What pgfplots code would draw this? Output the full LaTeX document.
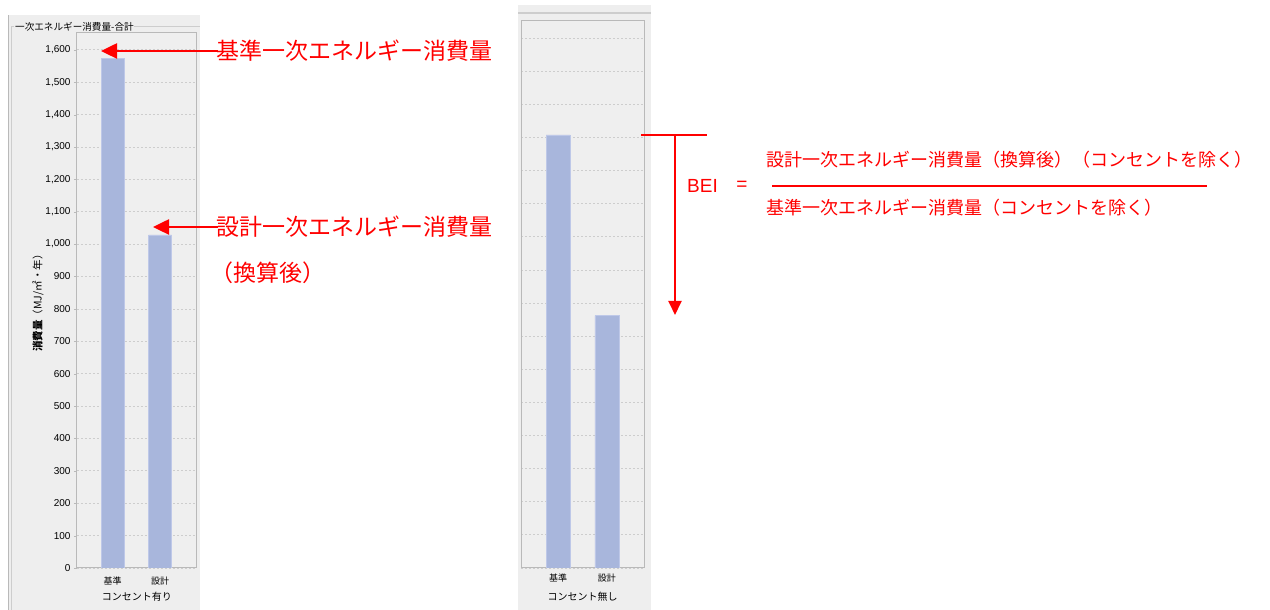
\documentclass[border=0pt]{standalone}
\usepackage{pgfplots}
\pgfplotsset{compat=1.18}
\usepackage{fontspec}
\setmainfont{Liberation Sans}
\newfontfamily\jp{Noto Sans CJK JP}
\usetikzlibrary{arrows.meta}
\definecolor{panelbg}{RGB}{238,238,238}
\definecolor{plotbg}{RGB}{239,239,239}
\definecolor{barcol}{RGB}{168,182,220}
\definecolor{barline}{RGB}{190,200,232}
\definecolor{framecol}{RGB}{185,185,185}
\definecolor{gridcol}{RGB}{205,205,205}
\definecolor{annred}{RGB}{255,0,0}

\pgfplotsset{
  chartstyle/.style={
    scale only axis, anchor=south west,
    ymin=0, ymax=1652,
    axis background/.style={fill=plotbg},
    axis line style={draw=framecol, line width=1pt},
    ymajorgrids, grid style={draw=gridcol, dash pattern=on 2pt off 2pt, line width=0.8pt},
    ytick={0,100,...,1600},
    xtick={0,1},
    xticklabels={基準,設計},
    xtick style={draw=none},
    tick pos=left,
    xticklabel style={font=\jp\fontsize{9}{10}\selectfont, yshift=-2pt},
    xlabel style={font=\jp\fontsize{10}{12}\selectfont, at={(axis description cs:0.5,0)}, anchor=center, yshift=-29pt},
  }
}

\begin{document}
\begin{tikzpicture}[x=1pt,y=1pt]
\useasboundingbox (0pt,0pt) rectangle (1270pt,610pt);
% left panel
\fill[panelbg] (8,0) rectangle (200,595);
\draw[draw=framecol, line width=1pt] (8.5,0) -- (8.5,595);
\draw[draw=gridcol, line width=1pt] (11.5,0) -- (11.5,583) -- (14,583);
\draw[draw=gridcol, line width=1pt] (134,583) -- (200,583);
\node[anchor=west, inner sep=0pt, font=\jp\fontsize{9.6}{11}\selectfont] at (15,583) {一次エネルギー消費量-合計};
% right panel
\fill[panelbg] (518,0) rectangle (651,605);
\draw[draw=gridcol, line width=1.2pt] (518,597) -- (651,597);

\begin{axis}[chartstyle,
  width=120pt, height=535pt, at={(77pt,42pt)},
  xmin=-0.75, xmax=1.78,
  major tick length=3pt, tick align=outside,
  ytick style={draw=framecol},
  /pgf/number format/assume math mode=true,
  /pgf/number format/.cd, 1000 sep={,}, /pgfplots/.cd,
  yticklabel style={font=\fontsize{10}{12}\selectfont},
  xlabel={コンセント有り},
  ylabel={\textbf{消費量}（MJ/㎡・年）},
  ylabel style={font=\jp\fontsize{10.5}{12}\selectfont, at={(axis description cs:-0.325,0.5)}, anchor=center},
]
\addplot[ybar, bar width=23pt, fill=barcol, draw=barline] coordinates {(0,1573) (1,1029)};
\end{axis}

\begin{axis}[chartstyle,
  width=123pt, height=547pt, at={(521pt,42pt)},
  xmin=-0.76, xmax=1.76,
  major tick length=0pt,
  yticklabels={},
  xlabel={コンセント無し},
]
\addplot[ybar, bar width=24pt, fill=barcol, draw=barline] coordinates {(0,1308) (1,762)};
\end{axis}

% left annotations
\draw[annred, line width=2.5pt, -{Triangle[length=16pt,width=15pt]}] (218,559) -- (101,559);
\node[anchor=west, inner sep=0pt, text=annred, font=\jp\fontsize{23}{26}\selectfont] at (216,559) {基準一次エネルギー消費量};
\draw[annred, line width=2.5pt, -{Triangle[length=16pt,width=15pt]}] (218,383) -- (153,383);
\node[anchor=west, inner sep=0pt, text=annred, font=\jp\fontsize{23}{26}\selectfont] at (216,383) {設計一次エネルギー消費量};
\node[anchor=west, inner sep=0pt, text=annred, font=\jp\fontsize{23}{26}\selectfont] at (210,337) {（換算後）};

% right annotations
\draw[annred, line width=2pt] (641,475) -- (707,475);
\draw[annred, line width=2pt, -{Triangle[length=14pt,width=13pt]}] (675,475) -- (675,295);
\node[anchor=west, inner sep=0pt, text=annred, font=\fontsize{19}{22}\selectfont] at (687,424) {BEI};
\node[anchor=center, inner sep=0pt, text=annred, font=\fontsize{19}{22}\selectfont] at (742,424) {=};
\draw[annred, line width=2pt] (772,424) -- (1207,424);
\node[anchor=west, inner sep=0pt, text=annred, font=\jp\fontsize{18}{21}\selectfont] at (766,450) {設計一次エネルギー消費量（換算後）（コンセントを除く）};
\node[anchor=west, inner sep=0pt, text=annred, font=\jp\fontsize{18}{21}\selectfont] at (766,402) {基準一次エネルギー消費量（コンセントを除く）};
\end{tikzpicture}
\end{document}
